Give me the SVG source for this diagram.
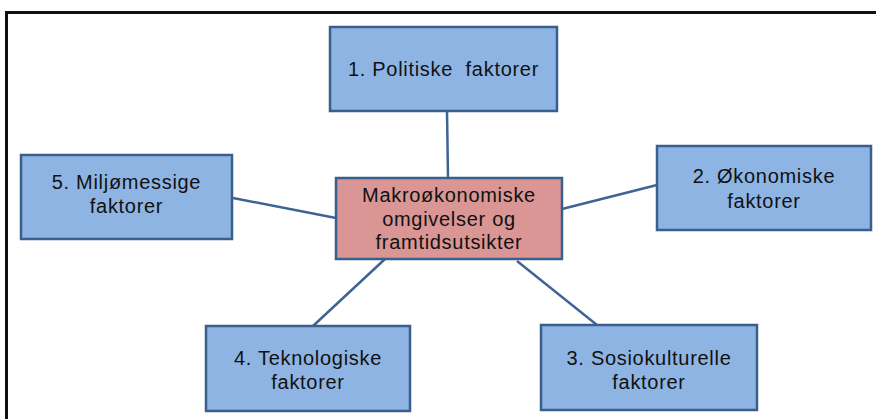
<svg xmlns="http://www.w3.org/2000/svg" width="876" height="419" viewBox="0 0 876 419">
  <style>
    .box { fill: #8EB4E3; stroke: #3A5F8D; stroke-width: 2.5; }
    .core { fill: #D99694; stroke: #3A5F8D; stroke-width: 2.5; }
    .lbl { font-family: "Liberation Sans", Arial, sans-serif; font-size: 20px; letter-spacing: 0.7px; fill: #111; text-anchor: middle; white-space: pre; }
    .link { stroke: #3E6496; stroke-width: 2.5; fill: none; }
  </style>
  <rect width="876" height="419" fill="#fff"/>
  <!-- outer frame, open to the right and bottom -->
  <path d="M6.5,425 V12.5 H880" fill="none" stroke="#111" stroke-width="3"/>

  <g id="connectors">
    <line class="link" x1="447" y1="111" x2="448" y2="178"/>
    <line class="link" x1="233" y1="198" x2="336" y2="218"/>
    <line class="link" x1="562" y1="209" x2="657" y2="185"/>
    <line class="link" x1="385" y1="259" x2="313" y2="326"/>
    <line class="link" x1="517" y1="261" x2="597" y2="325"/>
  </g>

  <g id="node-politiske">
    <rect class="box" x="330" y="27" width="227" height="84"/>
    <text class="lbl" x="443.5" y="76">1. Politiske  faktorer</text>
  </g>

  <g id="node-okonomiske">
    <rect class="box" x="657" y="146" width="214" height="84"/>
    <text class="lbl" x="764" y="183">2. Økonomiske</text>
    <text class="lbl" x="764" y="208">faktorer</text>
  </g>

  <g id="node-sosiokulturelle">
    <rect class="box" x="541" y="325" width="216" height="85"/>
    <text class="lbl" x="649" y="365">3. Sosiokulturelle</text>
    <text class="lbl" x="649" y="389">faktorer</text>
  </g>

  <g id="node-teknologiske">
    <rect class="box" x="206" y="326" width="204" height="85"/>
    <text class="lbl" x="308" y="365">4. Teknologiske</text>
    <text class="lbl" x="308" y="389">faktorer</text>
  </g>

  <g id="node-miljo">
    <rect class="box" x="21" y="155" width="211" height="84"/>
    <text class="lbl" x="126.5" y="189">5. Miljømessige</text>
    <text class="lbl" x="126.5" y="213">faktorer</text>
  </g>

  <g id="node-makro">
    <rect class="core" x="336" y="178" width="226" height="81"/>
    <text class="lbl" x="449" y="202">Makroøkonomiske</text>
    <text class="lbl" x="449" y="226">omgivelser og</text>
    <text class="lbl" x="449" y="249">framtidsutsikter</text>
  </g>
</svg>
